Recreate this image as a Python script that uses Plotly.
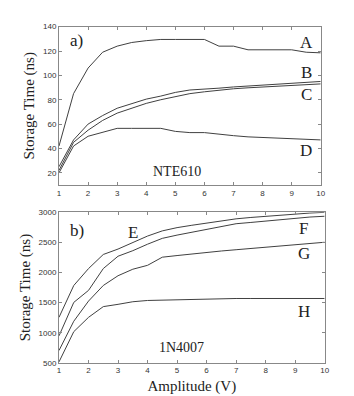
import plotly.graph_objects as go

amp = [1, 1.5, 2, 2.5, 3, 3.5, 4, 4.5, 5, 5.5, 6, 6.5, 7, 7.5, 8, 8.5, 9, 9.5, 10]
A = [42, 85, 106, 119, 124, 127, 128.5, 129.5, 129.5, 129.5, 129.5, 124, 124, 121, 121, 121, 121, 119, 118.5]
B = [25, 47, 60, 67, 73, 77, 80.5, 83, 86, 88, 88.5, 89.5, 90.5, 91.2, 92, 92.8, 93.7, 94.3, 95]
C = [22, 45, 55, 63, 69, 73, 77, 80, 82.5, 85, 86.5, 88, 89, 89.8, 90.5, 91.2, 92, 92.5, 93]
D = [20, 42, 50, 53.5, 56.5, 56.5, 56.5, 56.5, 54, 53, 53, 51.5, 50.5, 49.5, 49, 48.5, 48, 47.5, 47]

E = [1256, 1785, 2066, 2300, 2390, 2498, 2606, 2692, 2746, 2785, 2822, 2858, 2892, 2915, 2935, 2955, 2973, 2988, 3000]
F = [948, 1504, 1704, 2066, 2271, 2363, 2471, 2568, 2622, 2668, 2714, 2765, 2811, 2832, 2854, 2880, 2908, 2922, 2935]
G = [705, 1191, 1526, 1785, 1947, 2055, 2120, 2255, 2282, 2310, 2336, 2358, 2379, 2400, 2422, 2441, 2460, 2482, 2503]
H = [516, 1018, 1256, 1434, 1472, 1515, 1536, 1542, 1548, 1558, 1565, 1567, 1569, 1569, 1569, 1569, 1569, 1569, 1569]

x_ticks = [1, 2, 3, 4, 5, 6, 7, 8, 9, 10]
top_yticks = [20, 40, 60, 80, 100, 120, 140]
bot_yticks = [500, 1000, 1500, 2000, 2500, 3000]

W, Hh = 354, 396
line = dict(color="#404040", width=1)
serif = "Liberation Serif, Times New Roman, serif"

fig = go.Figure()
for s in [A, B, C, D]:
    fig.add_trace(go.Scatter(x=amp, y=s, mode="lines", line=line, xaxis="x", yaxis="y", showlegend=False))
for s in [E, F, G, H]:
    fig.add_trace(go.Scatter(x=amp, y=s, mode="lines", line=line, xaxis="x2", yaxis="y2", showlegend=False))

axcommon = dict(showgrid=False, zeroline=False, showline=True, linecolor="#888", linewidth=1,
                mirror="ticks", ticks="inside", ticklen=3, tickcolor="#888",
                tickfont=dict(family="Liberation Sans, Arial", size=8, color="#333"))

titlefont = dict(family=serif, size=15, color="#222")
fig.update_layout(
    width=W, height=Hh, margin=dict(l=0, r=0, t=0, b=0),
    paper_bgcolor="white", plot_bgcolor="white",
    xaxis=dict(domain=[50 / W, 317 / W], range=[1, 10], tickvals=x_ticks, anchor="y", **axcommon),
    yaxis=dict(domain=[1 - 177 / Hh, 1 - 15 / Hh], range=[10, 140], tickvals=top_yticks, anchor="x",
               title=dict(text="Storage Time (ns)", font=titlefont, standoff=4), **axcommon),
    xaxis2=dict(domain=[50 / W, 321 / W], range=[1, 10], tickvals=x_ticks, anchor="y2",
                title=dict(text="Amplitude (V)", font=titlefont, standoff=6), **axcommon),
    yaxis2=dict(domain=[1 - 359 / Hh, 1 - 205 / Hh], range=[500, 3000], tickvals=bot_yticks, anchor="x2",
                title=dict(text="Storage Time (ns)", font=titlefont, standoff=4), **axcommon),
)

labfont = dict(family=serif, size=17, color="#222")
top_labels = [("a)", 1.6, 129), ("A", 9.5, 127), ("B", 9.5, 102), ("C", 9.5, 84), ("D", 9.5, 38)]
for t, x, y in top_labels:
    fig.add_annotation(text=t, x=x, y=y, xref="x", yref="y", showarrow=False, font=labfont)
fig.add_annotation(text="NTE610", x=5.05, y=21, xref="x", yref="y", showarrow=False,
                   font=dict(family=serif, size=14, color="#222"))

bot_labels = [("b)", 1.6, 2700), ("E", 3.5, 2670), ("F", 9.3, 2730), ("G", 9.3, 2310), ("H", 9.3, 1360)]
for t, x, y in bot_labels:
    fig.add_annotation(text=t, x=x, y=y, xref="x2", yref="y2", showarrow=False, font=labfont)
fig.add_annotation(text="1N4007", x=5.15, y=750, xref="x2", yref="y2", showarrow=False,
                   font=dict(family=serif, size=14, color="#222"))

fig.write_html("out.html")
